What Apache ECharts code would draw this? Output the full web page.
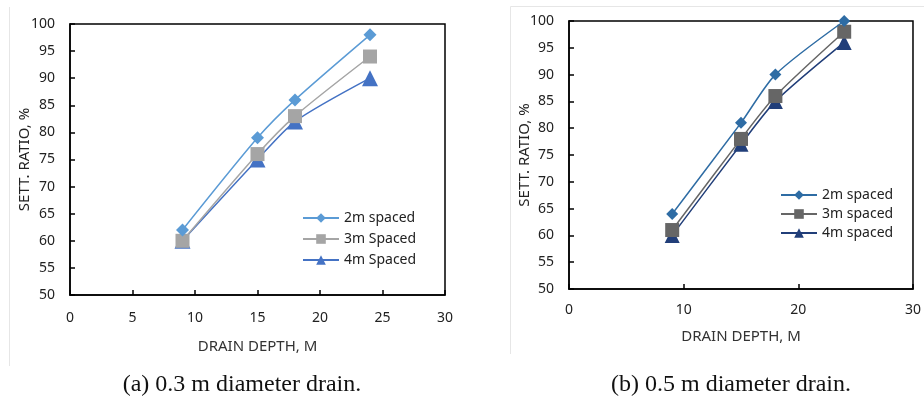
<!DOCTYPE html>
<html>
<head>
<meta charset="utf-8">
<script src="https://cdn.jsdelivr.net/npm/echarts@6/dist/echarts.min.js"></script>
<style>
  html, body { margin: 0; padding: 0; background: #fff; }
  #wrap { position: relative; width: 924px; height: 396px; }
  .chart { position: absolute; top: 0; width: 462px; height: 396px; }
</style>
</head>
<body>
<div id="wrap">
  <div id="chartA" class="chart" style="left:0"></div>
  <div id="chartB" class="chart" style="left:462px"></div>
</div>
<script>
// drain depth, m
const depths = [9, 15, 18, 24];

// (a) 0.3 m diameter drain
const a2m = [62, 79, 86, 98];
const a3m = [60, 76, 83, 94];
const a4m = [60, 75, 82, 90];

// (b) 0.5 m diameter drain
const b2m = [64, 81, 90, 100];
const b3m = [61, 78, 86, 98];
const b4m = [60, 77, 85, 96];

const namesA = ['2m spaced', '3m Spaced', '4m Spaced'];
const namesB = ['2m spaced', '3m spaced', '4m spaced'];

const axisFont = 'Noto Sans';

function pairs(ys) {
  return depths.map((x, i) => [x, ys[i]]);
}

function buildOption(cfg) {
  const symbols = ['diamond', 'rect', 'triangle'];
  return {
    animation: false,
    color: cfg.colors,
    title: {
      text: cfg.caption,
      left: cfg.captionX,
      top: 368,
      textAlign: 'center',
      textStyle: { fontFamily: 'Liberation Serif', fontSize: 24, fontWeight: 'normal', color: '#111' }
    },
    grid: Object.assign({
      show: true,
      borderColor: '#000',
      borderWidth: 1.5,
      backgroundColor: 'transparent'
    }, cfg.grid),
    legend: {
      orient: 'vertical',
      left: cfg.legend.left,
      top: cfg.legend.top,
      padding: 0,
      itemWidth: 36,
      itemHeight: 12,
      itemGap: cfg.legend.gap,
      textStyle: { fontFamily: axisFont, fontSize: 14, color: '#222' },
      data: cfg.names
    },
    xAxis: {
      type: 'value',
      min: 0,
      max: 30,
      interval: cfg.xInterval,
      name: 'DRAIN DEPTH, M',
      nameLocation: 'middle',
      nameGap: cfg.xNameGap,
      nameTextStyle: { fontFamily: axisFont, fontSize: 15, color: '#333' },
      axisLine: { lineStyle: { color: '#000', width: 1.5 } },
      axisTick: { inside: true, length: 5, lineStyle: { color: '#000', width: 1.5 } },
      axisLabel: { fontFamily: axisFont, fontSize: 14, color: '#222', margin: cfg.xLabelMargin },
      splitLine: { show: false }
    },
    yAxis: {
      type: 'value',
      min: 50,
      max: 100,
      interval: 5,
      name: 'SETT. RATIO, %',
      nameLocation: 'middle',
      nameGap: cfg.yNameGap,
      nameMoveOverlap: false,
      nameTextStyle: { fontFamily: axisFont, fontSize: 15, color: '#222' },
      axisLine: { show: true, lineStyle: { color: '#000', width: 1.5 } },
      axisTick: { show: true, inside: true, length: 5, lineStyle: { color: '#000', width: 1.5 } },
      axisLabel: { fontFamily: axisFont, fontSize: 14, color: '#222', margin: 15 },
      splitLine: { show: false }
    },
    graphic: cfg.graphic,
    series: cfg.data.map((ys, i) => ({
      name: cfg.names[i],
      type: 'line',
      smooth: 0.25,
      data: pairs(ys),
      symbol: symbols[i],
      symbolSize: cfg.sizes[i],
      lineStyle: { width: 1.5 },
      z: 3 - i
    }))
  };
}

const chartA = echarts.init(document.getElementById('chartA'));
chartA.setOption(buildOption({
  caption: '(a) 0.3 m diameter drain.',
  captionX: 237,
  colors: ['#5B9BD5', '#A5A5A5', '#4472C4'],
  names: namesA,
  sizes: [13, 14, 16],
  data: [a2m, a3m, a4m],
  grid: { left: 70, right: 17, top: 24, bottom: 101 },
  legend: { left: 302, top: 211, gap: 7 },
  xInterval: 5,
  xNameGap: 44,
  xLabelMargin: 16,
  yNameGap: 38,
  graphic: [{
    type: 'line',
    shape: { x1: 9.5, y1: 7, x2: 9.5, y2: 366 },
    style: { stroke: '#e6e6e6', lineWidth: 1 }
  }]
}));

const chartB = echarts.init(document.getElementById('chartB'));
chartB.setOption(buildOption({
  caption: '(b) 0.5 m diameter drain.',
  captionX: 264,
  colors: ['#2E6CA4', '#666666', '#213E79'],
  names: namesB,
  sizes: [12, 14, 15],
  data: [b2m, b3m, b4m],
  grid: { left: 107, right: 10, top: 21, bottom: 107 },
  legend: { left: 318, top: 188, gap: 5 },
  xInterval: 10,
  xNameGap: 40,
  xLabelMargin: 14,
  yNameGap: 37,
  graphic: [{
    type: 'polyline',
    shape: { points: [[48.5, 354], [48.5, 6.5], [462, 6.5]] },
    style: { stroke: '#e6e6e6', lineWidth: 1, fill: null }
  }]
}));
</script>
</body>
</html>
